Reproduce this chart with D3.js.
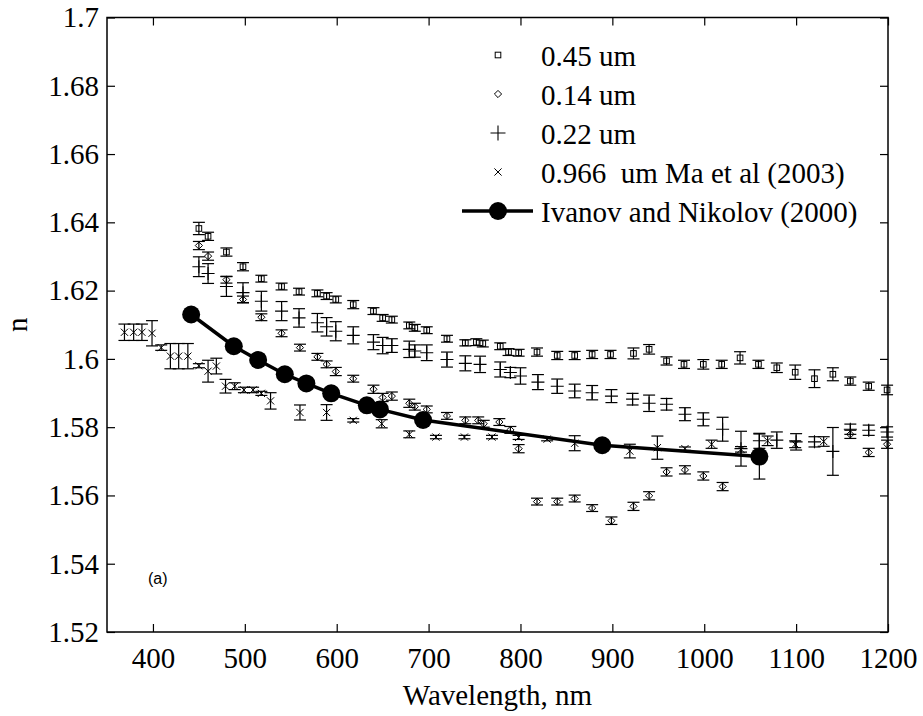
<!DOCTYPE html>
<html>
<head>
<meta charset="utf-8">
<script src="https://cdn.jsdelivr.net/npm/d3@7"></script>
<style>
  body { margin: 0; background: #fff; }
  svg { display: block; }
</style>
</head>
<body>
<div class="container"></div>
<script>
// 0.45 um particles (squares)
var sqWl  = [450,460,480,498,518,540,559,579,589,599,618,640,650,660,679,685,698,720,740,752,759,778,787,798,
             818,840,859,878,898,923,940,959,978,999,1019,1039,1059,1079,1099,1120,1140,1159,1179,1199];
var sqN   = [1.6382,1.6359,1.6313,1.6270,1.6235,1.6212,1.6197,1.6192,1.6184,1.6174,1.6159,1.6140,1.6120,1.6115,1.6098,1.6091,1.6084,1.6059,1.6047,1.6049,1.6045,1.6037,1.6020,1.6018,
             1.6020,1.6010,1.6010,1.6013,1.6013,1.6016,1.6028,1.5994,1.5984,1.5984,1.5984,1.6003,1.5984,1.5974,1.5961,1.5942,1.5955,1.5935,1.5920,1.5909];
var sqErr = [0.0018,0.0012,0.0012,0.0012,0.0010,0.0010,0.0010,0.0010,0.0010,0.0010,0.0012,0.0010,0.0010,0.0010,0.0010,0.0010,0.0010,0.0010,0.0009,0.0010,0.0010,0.0010,0.0010,0.0010,
             0.0012,0.0012,0.0012,0.0012,0.0012,0.0016,0.0014,0.0012,0.0012,0.0014,0.0012,0.0018,0.0012,0.0014,0.0021,0.0026,0.0019,0.0012,0.0012,0.0014];

// 0.14 um particles (diamonds)
var dmWl  = [450,460,480,498,518,540,560,579,589,599,618,640,650,660,679,685,698,720,740,754,760,777,789,798,
             818,840,859,878,899,923,940,959,979,999,1020,1159,1179,1199];
var dmN   = [1.6332,1.6301,1.6232,1.6174,1.6122,1.6075,1.6033,1.6006,1.5984,1.5963,1.5942,1.5911,1.5887,1.5891,1.5870,1.5860,1.5852,1.5833,1.5820,1.5820,1.5810,1.5815,1.5792,1.5737,
             1.5582,1.5582,1.5591,1.5563,1.5526,1.5568,1.5599,1.5669,1.5675,1.5657,1.5626,1.5779,1.5726,1.5750];
var dmErr = [0.0012,0.0012,0.0010,0.0010,0.0010,0.0010,0.0010,0.0010,0.0010,0.0012,0.0010,0.0012,0.0012,0.0012,0.0012,0.0010,0.0010,0.0010,0.0010,0.0010,0.0010,0.0010,0.0010,0.0012,
             0.0010,0.0010,0.0010,0.0010,0.0011,0.0012,0.0012,0.0012,0.0012,0.0012,0.0012,0.0012,0.0012,0.0012];

// 0.22 um particles (plus)
var plWl  = [450,460,480,498,518,540,559,579,589,599,618,640,650,660,679,685,698,720,740,756,778,789,800,
             819,840,859,878,899,922,940,959,979,999,1020,1040,1060,1079,1100,1120,1140,1159,1179,1199];
var plN   = [1.6270,1.6250,1.6212,1.6194,1.6169,1.6140,1.6120,1.6106,1.6094,1.6081,1.6069,1.6049,1.6039,1.6039,1.6028,1.6023,1.6018,1.5998,1.5987,1.5984,1.5969,1.5960,1.5950,
             1.5932,1.5920,1.5906,1.5901,1.5891,1.5882,1.5870,1.5867,1.5838,1.5823,1.5794,1.5737,1.5760,1.5762,1.5757,1.5757,1.5729,1.5794,1.5791,1.5786];
var plErr = [0.0029,0.0029,0.0029,0.0029,0.0029,0.0028,0.0027,0.0027,0.0027,0.0028,0.0025,0.0022,0.0024,0.0020,0.0024,0.0018,0.0023,0.0022,0.0022,0.0024,0.0022,0.0015,0.0024,
             0.0022,0.0021,0.0020,0.0021,0.0019,0.0017,0.0024,0.0017,0.0019,0.0019,0.0035,0.0051,0.0022,0.0024,0.0024,0.0015,0.0070,0.0015,0.0015,0.0015];

// 0.966 um, Ma et al (2003) (x)
var xWl   = [369,379,388,399,409,419,428,438,450,460,469,479,489,499,509,518,528,560,589,618,649,679,708,739,769,798,829,859,919,949,979,1008,1040,1069,1099,1130];
var xN    = [1.6078,1.6078,1.6078,1.6075,1.6033,1.6008,1.6008,1.6008,1.5980,1.5964,1.5979,1.5920,1.5920,1.5909,1.5909,1.5899,1.5877,1.5843,1.5843,1.5820,1.5810,1.5779,1.5771,1.5771,1.5771,1.5770,1.5765,1.5753,1.5730,1.5740,1.5737,1.5750,1.5735,1.5760,1.5750,1.5758];
var xErr  = [0.0024,0.0024,0.0024,0.0037,0.0008,0.0037,0.0037,0.0037,0.0006,0.0032,0.0023,0.0020,0.0010,0.0008,0.0008,0.0006,0.0024,0.0022,0.0023,0.0005,0.0012,0.0010,0.0005,0.0005,0.0005,0.0006,0.0005,0.0022,0.0020,0.0034,0.0005,0.0012,0.0008,0.0014,0.0010,0.0014];

// Ivanov and Nikolov (2000)
var ivWl  = [441.6,488,514.5,543.5,567,594,632.8,647,694,889,1060];
var ivN   = [1.6130,1.6037,1.5997,1.5955,1.5928,1.5899,1.5864,1.5852,1.5821,1.5747,1.5714];
var ivErr = [0,0,0,0,0,0,0,0,0,0,0.0066];

var xTicks = [400,500,600,700,800,900,1000,1100,1200];
var yTicks = [1.52,1.54,1.56,1.58,1.6,1.62,1.64,1.66,1.68,1.7];

var legendLabels = ['0.45 um', '0.14 um', '0.22 um', '0.966  um Ma et al (2003)', 'Ivanov and Nikolov (2000)'];

var W = 923, H = 716;
var plotL = 107, plotR = 888, plotT = 17.5, plotB = 632;
var serif = '"Liberation Serif", "Times New Roman", serif';

var svg = d3.select('.container')
  .append('svg')
  .attr('width', W)
  .attr('height', H);

var xScale = d3.scaleLinear().domain([350, 1200]).range([plotL, plotR]);
var yScale = d3.scaleLinear().domain([1.52, 1.7]).range([plotB, plotT]);

function zip(wl, n, err) {
  return wl.map(function(d, i) { return {x: d, y: n[i], e: err[i]}; });
}

/* axes, MATLAB style: ticks inward on all four sides */
var bottomAxis = svg.append('g')
  .attr('transform', 'translate(0,' + plotB + ')')
  .call(d3.axisBottom(xScale).tickValues(xTicks).tickSizeInner(-8).tickSizeOuter(0).tickPadding(15).tickFormat(d3.format('d')));
var leftAxis = svg.append('g')
  .attr('transform', 'translate(' + plotL + ',0)')
  .call(d3.axisLeft(yScale).tickValues(yTicks).tickSizeInner(-8).tickSizeOuter(0).tickPadding(8).tickFormat(function(d) { return String(+d.toFixed(2)); }));
var topAxis = svg.append('g')
  .attr('transform', 'translate(0,' + plotT + ')')
  .call(d3.axisTop(xScale).tickValues(xTicks).tickSizeInner(-8).tickSizeOuter(0).tickFormat(''));
var rightAxis = svg.append('g')
  .attr('transform', 'translate(' + plotR + ',0)')
  .call(d3.axisRight(yScale).tickValues(yTicks).tickSizeInner(-8).tickSizeOuter(0).tickFormat(''));

[bottomAxis, leftAxis, topAxis, rightAxis].forEach(function(a) {
  a.select('.domain').remove();
  a.selectAll('line').attr('stroke', '#000').attr('stroke-width', 1.2);
  a.selectAll('text').attr('font-family', serif).attr('font-size', '29px').attr('fill', '#000');
});

svg.append('rect')
  .attr('x', plotL).attr('y', plotT)
  .attr('width', plotR - plotL).attr('height', plotB - plotT)
  .attr('fill', 'none').attr('stroke', '#000').attr('stroke-width', 1.5);

/* axis labels */
svg.append('text')
  .attr('x', (plotL + plotR) / 2).attr('y', 705)
  .attr('text-anchor', 'middle')
  .attr('font-family', serif).attr('font-size', '29px')
  .text('Wavelength, nm');

svg.append('text')
  .attr('transform', 'translate(27,' + ((plotT + plotB) / 2) + ') rotate(-90)')
  .attr('text-anchor', 'middle')
  .attr('font-family', serif).attr('font-size', '29px')
  .text('n');

svg.append('text')
  .attr('x', 148).attr('y', 584)
  .attr('font-family', '"Liberation Sans", Arial, sans-serif').attr('font-size', '16px')
  .text('(a)');

/* error bars */
var capW = 6;
function errorBars(data) {
  var g = svg.append('g').attr('stroke', '#000').attr('stroke-width', 1.2).attr('fill', 'none');
  var d2 = data.filter(function(d) { return d.e > 0; });
  g.selectAll('line.v').data(d2).enter().append('line')
    .attr('x1', function(d) { return xScale(d.x); }).attr('x2', function(d) { return xScale(d.x); })
    .attr('y1', function(d) { return yScale(d.y - d.e); }).attr('y2', function(d) { return yScale(d.y + d.e); });
  [-1, 1].forEach(function(s) {
    g.selectAll('line.c' + (s + 1)).data(d2).enter().append('line')
      .attr('x1', function(d) { return xScale(d.x) - capW; }).attr('x2', function(d) { return xScale(d.x) + capW; })
      .attr('y1', function(d) { return yScale(d.y + s * d.e); }).attr('y2', function(d) { return yScale(d.y + s * d.e); });
  });
}

var markers = {
  square: function(g, x, y) {
    g.append('rect').attr('x', x - 2.8).attr('y', y - 2.8).attr('width', 5.6).attr('height', 5.6)
      .attr('fill', 'none').attr('stroke', '#000').attr('stroke-width', 1);
  },
  diamond: function(g, x, y) {
    g.append('path').attr('d', 'M' + x + ',' + (y - 3.6) + 'L' + (x + 3.6) + ',' + y + 'L' + x + ',' + (y + 3.6) + 'L' + (x - 3.6) + ',' + y + 'Z')
      .attr('fill', 'none').attr('stroke', '#000').attr('stroke-width', 1);
  },
  plus: function(g, x, y) {
    g.append('path').attr('d', 'M' + (x - 6.5) + ',' + y + 'H' + (x + 6.5) + 'M' + x + ',' + (y - 6.5) + 'V' + (y + 6.5))
      .attr('fill', 'none').attr('stroke', '#000').attr('stroke-width', 1.1);
  },
  cross: function(g, x, y) {
    g.append('path').attr('d', 'M' + (x - 3.6) + ',' + (y - 3.6) + 'L' + (x + 3.6) + ',' + (y + 3.6) + 'M' + (x - 3.6) + ',' + (y + 3.6) + 'L' + (x + 3.6) + ',' + (y - 3.6))
      .attr('fill', 'none').attr('stroke', '#000').attr('stroke-width', 1);
  }
};

function scatter(data, kind) {
  errorBars(data);
  var g = svg.append('g');
  data.forEach(function(d) { markers[kind](g, xScale(d.x), yScale(d.y)); });
}

scatter(zip(sqWl, sqN, sqErr), 'square');
scatter(zip(dmWl, dmN, dmErr), 'diamond');
scatter(zip(plWl, plN, plErr), 'plus');
scatter(zip(xWl, xN, xErr), 'cross');

/* Ivanov and Nikolov curve */
var ivData = zip(ivWl, ivN, ivErr);
errorBars(ivData);
var line = d3.line().x(function(d) { return xScale(d.x); }).y(function(d) { return yScale(d.y); });
svg.append('path').datum(ivData)
  .attr('d', line).attr('fill', 'none').attr('stroke', '#000').attr('stroke-width', 3.5);
svg.selectAll('circle.iv').data(ivData).enter().append('circle')
  .attr('class', 'iv')
  .attr('cx', function(d) { return xScale(d.x); })
  .attr('cy', function(d) { return yScale(d.y); })
  .attr('r', 9).attr('fill', '#000');

/* legend */
var legX = 498, textX = 541;
var rowBase = [66, 105, 144, 183, 222];
var kinds = ['square', 'diamond', 'plus', 'cross'];
var lg = svg.append('g');
kinds.forEach(function(k, i) {
  var my = rowBase[i] - 11;
  if (k == 'plus') {
    lg.append('path').attr('d', 'M' + (legX - 7.5) + ',' + my + 'H' + (legX + 7.5) + 'M' + legX + ',' + (my - 7.5) + 'V' + (my + 7.5))
      .attr('stroke', '#000').attr('stroke-width', 1.1);
  } else {
    markers[k](lg, legX, my);
  }
});
lg.append('line')
  .attr('x1', 462).attr('x2', 533).attr('y1', rowBase[4] - 11).attr('y2', rowBase[4] - 11)
  .attr('stroke', '#000').attr('stroke-width', 3.5);
lg.append('circle').attr('cx', legX).attr('cy', rowBase[4] - 11).attr('r', 9).attr('fill', '#000');
lg.selectAll('text').data(legendLabels).enter().append('text')
  .attr('x', textX)
  .attr('y', function(d, i) { return rowBase[i]; })
  .attr('font-family', serif).attr('font-size', '29px')
  .attr('xml:space', 'preserve')
  .style('white-space', 'pre')
  .text(function(d) { return d; });
</script>
</body>
</html>
